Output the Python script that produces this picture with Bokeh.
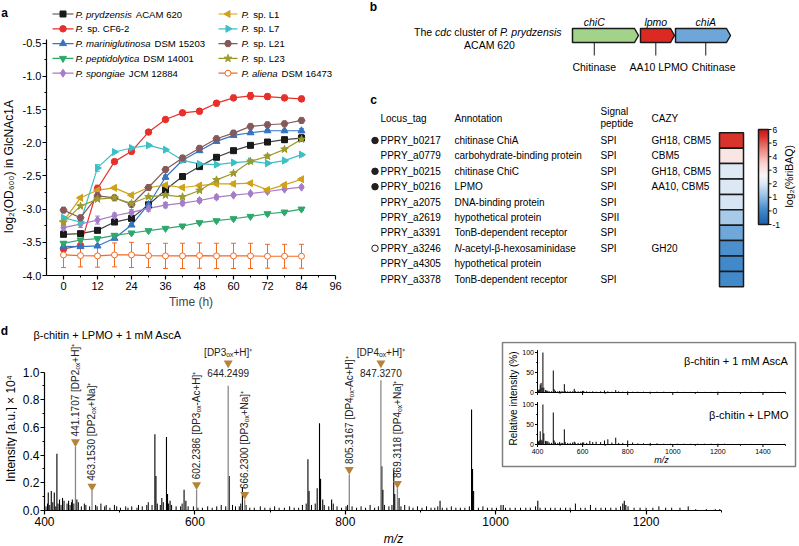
import math
import numpy as np
from bokeh.plotting import figure
from bokeh.models import (Range1d, FixedTicker, PrintfTickFormatter,
                          ColumnDataSource, Whisker, TeeHead, LinearColorMapper)
from bokeh.layouts import row, column
from bokeh.core.properties import value
from bokeh.embed import file_html
from bokeh.resources import INLINE

FONT = "Liberation Sans"

# ======================= DATA =======================
# ---- panel a: growth curves, log2(OD600) ----
time_h = [0, 6, 12, 18, 24, 30, 36, 42, 48, 54, 60, 66, 72, 78, 84]
od_prydzensis = [-3.38, -3.37, -3.32, -3.195, -3.14, -2.935, -2.71, -2.51, -2.36, -2.22, -2.12, -2.04, -1.99, -1.955, -1.93]
od_cf62 = [-3.60, -3.55, -2.69, -2.285, -2.13, -1.84, -1.65, -1.55, -1.525, -1.405, -1.325, -1.295, -1.305, -1.325, -1.34]
od_mariniglutinosa = [-3.56, -3.565, -3.555, -3.44, -3.24, -2.93, -2.52, -2.265, -2.12, -1.98, -1.89, -1.85, -1.82, -1.82, -1.82]
od_peptidolytica = [-3.515, -3.465, -3.445, -3.395, -3.36, -3.325, -3.29, -3.255, -3.205, -3.175, -3.145, -3.11, -3.07, -3.045, -3.0]
od_spongiae = [-3.28, -3.225, -3.165, -3.10, -3.05, -2.99, -2.94, -2.91, -2.87, -2.82, -2.79, -2.765, -2.735, -2.70, -2.67]
od_l1 = [-3.18, -2.83, -2.715, -2.68, -2.79, -2.675, -2.64, -2.675, -2.645, -2.62, -2.62, -2.61, -2.71, -2.635, -2.55]
od_l7 = [-3.13, -3.195, -2.38, -2.14, -2.08, -2.04, -2.105, -2.265, -2.32, -2.33, -2.30, -2.28, -2.31, -2.27, -2.18]
od_l21 = [-3.015, -3.13, -2.80, -2.83, -2.93, -2.675, -2.405, -2.23, -2.085, -1.94, -1.855, -1.755, -1.73, -1.715, -1.665]
od_l23 = [-3.20, -2.955, -2.85, -2.83, -2.915, -2.815, -2.79, -2.815, -2.72, -2.56, -2.46, -2.28, -2.205, -2.10, -1.95]
od_aliena = [-3.69, -3.70, -3.705, -3.69, -3.69, -3.70, -3.705, -3.705, -3.70, -3.705, -3.705, -3.705, -3.71, -3.71, -3.71]

err_prydzensis = [0.03, 0.03, 0.02, 0.03, 0.02, 0.02, 0.04, 0.04, 0.03, 0.02, 0.02, 0.02, 0.03, 0.04, 0.05]
err_cf62 = [0.02, 0.03, 0.05, 0.02, 0.04, 0.03, 0.03, 0.03, 0.04, 0.04, 0.04, 0.05, 0.04, 0.04, 0.04]
err_mariniglutinosa = [0.02, 0.02, 0.02, 0.02, 0.02, 0.02, 0.03, 0.02, 0.02, 0.02, 0.02, 0.02, 0.02, 0.02, 0.03]
err_peptidolytica = [0.02, 0.02, 0.02, 0.02, 0.02, 0.02, 0.02, 0.02, 0.02, 0.02, 0.02, 0.02, 0.02, 0.02, 0.02]
err_spongiae = [0.04, 0.05, 0.06, 0.04, 0.04, 0.04, 0.04, 0.03, 0.03, 0.03, 0.02, 0.02, 0.02, 0.02, 0.02]
err_l1 = [0.03, 0.02, 0.03, 0.02, 0.02, 0.02, 0.02, 0.02, 0.02, 0.02, 0.03, 0.02, 0.02, 0.02, 0.02]
err_l7 = [0.02, 0.02, 0.05, 0.02, 0.02, 0.02, 0.02, 0.02, 0.02, 0.02, 0.02, 0.02, 0.02, 0.02, 0.02]
err_l21 = [0.02, 0.02, 0.02, 0.02, 0.02, 0.02, 0.02, 0.02, 0.02, 0.02, 0.02, 0.02, 0.02, 0.02, 0.02]
err_l23 = [0.02, 0.02, 0.02, 0.02, 0.02, 0.02, 0.02, 0.02, 0.02, 0.02, 0.02, 0.02, 0.03, 0.02, 0.03]
err_aliena = [0.19, 0.17, 0.17, 0.18, 0.19, 0.18, 0.19, 0.19, 0.19, 0.19, 0.19, 0.19, 0.18, 0.18, 0.18]

strain_italic = ["P. prydzensis", "P.", "P. mariniglutinosa", "P. peptidolytica", "P. spongiae",
                 "P.", "P.", "P.", "P.", "P. aliena"]
strain_rest = [" ACAM 620", " sp. CF6-2", " DSM 15203", " DSM 14001", " JCM 12884",
               " sp. L1", " sp. L7", " sp. L21", " sp. L23", " DSM 16473"]

# ---- panel b: the cdc gene cluster (bp) ----
gene_names = ["chiC", "lpmo", "chiA"]
gene_start = [0, 1700, 2575]
gene_end = [1650, 2550, 3950]
gene_product = ["Chitinase", "AA10 LPMO", "Chitinase"]

# ---- panel c: secretome table ----
locus_tags = ["PPRY_b0217", "PPRY_a0779", "PPRY_b0215", "PPRY_b0216", "PPRY_a2075",
              "PPRY_a2619", "PPRY_a3391", "PPRY_a3246", "PPRY_a4305", "PPRY_a3378"]
annot_italic = ["", "", "", "", "", "", "", "N", "", ""]
annot_rest = ["chitinase ChiA", "carbohydrate-binding protein", "chitinase ChiC", "LPMO",
              "DNA-binding protein", "hypothetical protein", "TonB-dependent receptor",
              "-acetyl-\u03b2-hexosaminidase", "hypothetical protein", "TonB-dependent receptor"]
signal_peptide = ["SPI", "SPI", "SPI", "SPI", "SPI", "SPII", "SPI", "SPI", "", "SPI"]
cazy = ["GH18, CBM5", "CBM5", "GH18, CBM5", "AA10, CBM5", "", "", "", "GH20", "", ""]
bullet = ["filled", "", "filled", "filled", "", "", "", "open", "", ""]
log2_riBAQ = [5.5, 3.05, 2.05, 2.0, 1.9, 1.3, 0.6, 0.15, 0.05, 0.05]

# ---- panel d: MALDI spectrum (intensity x 1e4) ----
peak_mz = [405, 409, 413, 416.5, 420, 424, 432, 437, 443,
           546.8, 548.2, 556, 562.2, 563.6, 567, 585.6, 588, 645.6, 663.2,
           750.3, 751.8, 762.6, 765.7, 767.1, 770, 781.8,
           848.6, 850, 864.4, 865.8, 871.5, 926, 967.9, 969.2, 970.6,
           1010, 1056, 1169, 1171, 1173]
peak_int = [0.13, 0.14, 0.13, 0.41, 0.08, 0.09, 0.07, 0.08, 0.08,
            0.55, 0.25, 0.09, 0.53, 0.12, 0.07, 0.15, 0.07, 0.25, 0.17,
            0.37, 0.14, 0.16, 0.63, 0.23, 0.08, 0.08,
            0.32, 0.15, 0.29, 0.12, 0.09, 0.07, 0.73, 0.30, 0.14,
            0.04, 0.07, 0.05, 0.07, 0.04]
noise_mz = [
    402, 404, 407, 411, 415, 418, 422, 426, 430, 434,
    436, 439, 445, 449, 453, 455, 460, 468, 470, 475,
    480, 482, 487, 493, 496, 501, 508, 511, 516, 523,
    525, 530, 536, 538, 543, 550, 554, 558, 565, 569,
    575, 581, 583, 591, 598, 604, 610, 617, 623, 629,
    635, 641, 650, 654, 659, 661, 668, 673, 679, 687,
    693, 700, 706, 712, 719, 726, 732, 738, 743, 748,
    755, 760, 772, 778, 784, 789, 795, 801, 803, 809,
    815, 821, 827, 833, 839, 844, 852, 858, 862, 874,
    879, 885, 890, 896, 902, 908, 914, 919, 923, 929,
    935, 941, 947, 953, 959, 965, 977, 983, 989, 995,
    1001, 1007, 1013, 1019, 1026, 1033, 1040, 1046, 1053, 1059,
    1066, 1073, 1079, 1086, 1093, 1099, 1106, 1113, 1119, 1126,
    1133, 1140, 1146, 1153, 1160, 1166, 1176, 1184, 1192, 1200,
    1209, 1217, 1226, 1234, 1245, 1256, 1266, 1280, 1292, 1298]
noise_int = [
    0.03, 0.05, 0.04, 0.06, 0.03, 0.05, 0.04, 0.07, 0.05, 0.04,
    0.06, 0.05, 0.06, 0.03, 0.05, 0.04, 0.03, 0.04, 0.03, 0.05,
    0.03, 0.04, 0.02, 0.04, 0.03, 0.02, 0.03, 0.02, 0.03, 0.02,
    0.04, 0.03, 0.04, 0.06, 0.04, 0.05, 0.04, 0.06, 0.05, 0.04,
    0.03, 0.03, 0.05, 0.03, 0.03, 0.02, 0.02, 0.03, 0.02, 0.03,
    0.04, 0.03, 0.04, 0.03, 0.03, 0.05, 0.04, 0.02, 0.02, 0.03,
    0.02, 0.02, 0.03, 0.02, 0.02, 0.03, 0.02, 0.02, 0.04, 0.05,
    0.04, 0.05, 0.04, 0.03, 0.05, 0.03, 0.02, 0.03, 0.04, 0.03,
    0.02, 0.03, 0.02, 0.04, 0.02, 0.03, 0.04, 0.03, 0.04, 0.03,
    0.04, 0.03, 0.02, 0.03, 0.02, 0.03, 0.02, 0.02, 0.03, 0.02,
    0.02, 0.03, 0.02, 0.02, 0.02, 0.03, 0.02, 0.03, 0.02, 0.02,
    0.02, 0.04, 0.02, 0.02, 0.02, 0.02, 0.02, 0.02, 0.03, 0.02,
    0.02, 0.02, 0.02, 0.02, 0.02, 0.02, 0.05, 0.02, 0.02, 0.04,
    0.02, 0.02, 0.02, 0.02, 0.02, 0.03, 0.03, 0.02, 0.02, 0.02,
    0.02, 0.03, 0.02, 0.02, 0.02, 0.03, 0.01, 0.01, 0.01, 0.01]
ann_mz = [441.17, 463.15, 602.24, 644.25, 666.23, 805.32, 847.33, 869.31]
ann_int = [0.46, 0.14, 0.15, 0.90, 0.08, 0.26, 0.94, 0.16]
ann_value = ["441.1707", "463.1530", "602.2386", "644.2499", "666.2300", "805.3167", "847.3270", "869.3118"]
ann_ion = ["[DP2\u2092\u2093+H]\u207a", "[DP2\u2092\u2093+Na]\u207a", "[DP3\u2092\u2093-Ac+H]\u207a",
           "[DP3\u2092\u2093+H]\u207a", "[DP3\u2092\u2093+Na]\u207a", "[DP4\u2092\u2093-Ac+H]\u207a",
           "[DP4\u2092\u2093+H]\u207a", "[DP4\u2092\u2093+Na]\u207a"]
ann_horizontal = [False, False, False, True, False, False, True, False]

# ---- panel d inset: relative intensity (%) ----
inset_mz = [405, 408, 412, 416, 420, 424, 428, 436, 441, 446,
            452, 462, 470, 474, 480, 490, 498, 505, 512, 519,
            523, 534, 545, 556, 563, 567, 580, 592, 600, 605,
            618, 632, 645, 660, 680, 697, 712, 730, 747, 760,
            778, 800, 822, 845, 870, 900, 930, 960, 990, 1020,
            1050, 1080, 1110, 1140, 1170, 1200, 1230, 1260, 1290, 1320,
            1350, 1380, 1410, 1440, 1470, 1495]
rel_asca = [6, 8, 20, 24, 12, 100, 12, 6, 5, 4,
            3, 3, 55, 8, 4, 3, 4, 3, 3, 21,
            4, 3, 3, 3, 9, 4, 3, 3, 4, 4,
            3, 2, 3, 2, 3, 5, 3, 2, 6, 3,
            2, 3, 2, 2, 2, 2, 2, 2, 1.5, 2,
            1.5, 1.5, 2, 1.5, 1.5, 2, 1.5, 1.5, 1.5, 1.5,
            1.5, 1.5, 1.5, 1.5, 1.5, 1.5]
rel_lpmo = [8, 10, 33, 12, 10, 100, 28, 9, 8, 8,
            5, 4, 80, 10, 5, 4, 6, 4, 4, 38,
            6, 4, 4, 5, 7, 5, 4, 4, 5, 5,
            4, 9, 6, 7, 6, 10, 13, 5, 17, 4,
            4, 10, 5, 3, 3, 4, 3, 2, 2, 2,
            2, 2, 2, 2, 2, 2, 2, 1.5, 1.5, 1.5,
            1.5, 1.5, 1.5, 1.5, 1.5, 1.5]

# ======================= HELPERS =======================
_AW = {' ': 278, '%': 889, '(': 333, ')': 333, '+': 584, ',': 278, '-': 333, '.': 278, '_': 556,
       '[': 278, ']': 278}
for _c in "0123456789":
    _AW[_c] = 556
for _c, _w in zip("abcdefghijklmnopqrstuvwxyz",
                  [556, 556, 500, 556, 556, 278, 556, 556, 222, 222, 500, 222, 833, 556, 556, 556, 556, 333,
                   500, 278, 556, 500, 722, 500, 500, 500]):
    _AW[_c] = _w
for _c, _w in zip("ABCDEFGHIJKLMNOPQRSTUVWXYZ",
                  [667, 667, 722, 722, 667, 611, 778, 722, 278, 500, 667, 556, 833, 722, 778, 667, 778, 722,
                   667, 611, 722, 667, 944, 667, 667, 611]):
    _AW[_c] = _w


def tw(s, size):
    return sum(_AW.get(c, 556) for c in s) / 1000.0 * size


def style_axis(axis, size, standoff=2):
    axis.axis_line_width = 1.2
    axis.axis_line_color = "black"
    axis.major_tick_line_width = 1.2
    axis.minor_tick_line_width = 1
    axis.major_tick_out = 4
    axis.major_tick_in = 0
    axis.minor_tick_out = 2
    axis.minor_tick_in = 0
    axis.major_label_text_font = FONT
    axis.major_label_text_font_size = f"{size}px"
    axis.major_label_text_color = "black"
    axis.major_label_standoff = standoff


def txt(p, xs, ys, texts, size, style="normal", align="left", baseline="middle",
        color="black", angle=0.0, **kw):
    p.text(x=xs, y=ys, text=texts, text_font=value(FONT), text_font_size=f"{size}px",
           text_font_style=style, text_align=align, text_baseline=baseline,
           text_color=color, angle=angle, **kw)


def mixed(p, x0, y, parts, size, data_per_px, **kw):
    """Lay out italic / upright pieces one after the other (spaces are advanced, not drawn)."""
    x = x0
    for s, it in parts:
        core = s.strip(' ')
        lead = len(s) - len(s.lstrip(' '))
        trail = len(s) - len(s.rstrip(' '))
        x += tw(' ' * lead, size) * data_per_px
        if core:
            txt(p, [x], [y], [core], size, style="italic" if it else "normal", **kw)
        x += (tw(core, size) + tw(' ' * trail, size)) * data_per_px


def base_fig(**kw):
    p = figure(output_backend="svg", toolbar_location=None, **kw)
    p.grid.visible = False
    p.outline_line_color = None
    p.background_fill_color = "white"
    p.border_fill_color = "white"
    return p


def strip(x0, y0, w, h):
    """A plain drawing area whose data units are page pixels (used for labels outside plot frames)."""
    return base_fig(width=w, height=h, frame_width=w, frame_height=h,
                    min_border_left=0, min_border_right=0, min_border_top=0, min_border_bottom=0,
                    x_range=Range1d(x0, x0 + w), y_range=Range1d(y0 + h, y0),
                    x_axis_type=None, y_axis_type=None)


# ======================= PANEL A =======================
SA_W = 18
A_L, A_T, A_FW, A_FH, A_B = 28, 6, 289, 269, 36
A_W = 350
A_R = A_W - A_L - A_FW
A_H = A_T + A_FH + A_B
A_X0, A_X1 = -6.0, 96.0
A_PXH = A_FW / (A_X1 - A_X0)
A_PXV = 66.4
A_Y0 = -4.0
A_Y1 = A_Y0 + A_FH / A_PXV
A_FL = SA_W + A_L
A_FB = A_T + A_FH


def ax(wx):
    return A_X0 + (wx - A_FL) / A_PXH


def ay(wy):
    return A_Y0 + (A_FB - wy) / A_PXV


sa = strip(0, 0, SA_W, A_H)
txt(sa, [4], [6], ["a"], 12, style="bold", align="center")
txt(sa, [8.5], [160], ["log\u2082(OD\u2086\u2080\u2080) in GlcNAc1A"], 12, align="center", angle=math.pi / 2)

pa = base_fig(width=A_W, height=A_H, frame_width=A_FW, frame_height=A_FH,
              min_border_left=A_L, min_border_right=A_R, min_border_top=A_T, min_border_bottom=A_B,
              x_range=Range1d(A_X0, A_X1), y_range=Range1d(A_Y0, A_Y1))
style_axis(pa.xaxis[0], 11)
style_axis(pa.yaxis[0], 11, standoff=1)
pa.xaxis.ticker = FixedTicker(ticks=[0, 12, 24, 36, 48, 60, 72, 84, 96],
                              minor_ticks=[6, 18, 30, 42, 54, 66, 78, 90])
pa.yaxis.ticker = FixedTicker(ticks=[-4.0, -3.5, -3.0, -2.5, -2.0, -1.5, -1.0, -0.5],
                              minor_ticks=[-3.75, -3.25, -2.75, -2.25, -1.75, -1.25, -0.75])
pa.yaxis.formatter = PrintfTickFormatter(format="%.1f")
pa.yaxis.bounds = (-4.0, -0.45)
pa.xaxis.axis_label = "Time (h)"
pa.xaxis.axis_label_text_font = FONT
pa.xaxis.axis_label_text_font_size = "12px"
pa.xaxis.axis_label_text_font_style = "normal"
pa.xaxis.axis_label_standoff = 2

series = [
    (od_prydzensis, err_prydzensis, "#1a1a1a", "#444444", "square", 0.0, 6, "#1a1a1a"),
    (od_cf62, err_cf62, "#e8302a", "#e8302a", "circle", 0.0, 6.5, "#e8302a"),
    (od_mariniglutinosa, err_mariniglutinosa, "#3574c4", "#3574c4", "triangle", 0.0, 7, "#3574c4"),
    (od_peptidolytica, err_peptidolytica, "#2ea86b", "#2ea86b", "inverted_triangle", 0.0, 7, "#2ea86b"),
    (od_spongiae, err_spongiae, "#a57cc9", "#a57cc9", "diamond", 0.0, 8, "#a57cc9"),
    (od_l1, err_l1, "#cfa21a", "#cfa21a", "triangle", math.pi / 2, 7, "#cfa21a"),
    (od_l7, err_l7, "#3cc0c6", "#3cc0c6", "triangle", -math.pi / 2, 7, "#3cc0c6"),
    (od_l21, err_l21, "#85595a", "#85595a", "hex", 0.0, 7, "#85595a"),
    (od_l23, err_l23, "#9c9b2c", "#9c9b2c", "star", 0.0, 8, "#9c9b2c"),
    (od_aliena, err_aliena, "#f26a23", "#f26a23", "circle", 0.0, 6, "white"),
]

for vals, errs, col, lcol, mk, ang, sz, fill in series:
    src = ColumnDataSource(dict(x=time_h, y=vals,
                                upper=[v + e for v, e in zip(vals, errs)],
                                lower=[v - e for v, e in zip(vals, errs)]))
    pa.line("x", "y", source=src, line_color=lcol, line_width=1.2)
    pa.add_layout(Whisker(source=src, base="x", upper="upper", lower="lower",
                          line_color=col, line_width=1,
                          upper_head=TeeHead(size=5, line_color=col, line_width=1),
                          lower_head=TeeHead(size=5, line_color=col, line_width=1)))
for vals, errs, col, lcol, mk, ang, sz, fill in series:
    pa.scatter(time_h, vals, marker=mk, angle=ang, size=sz, fill_color=fill,
               line_color=col, line_width=1)

# legend (two columns x five rows), positions in page pixels
LEG_COLS = [(52, 73, 62.5, 75), (218, 237, 227.5, 241)]
for i, (vals, errs, col, lcol, mk, ang, sz, fill) in enumerate(series):
    c0, c1, cm, ct = LEG_COLS[i // 5]
    wy = 13.5 + 14.8 * (i % 5)
    pa.segment(x0=[ax(c0)], y0=[ay(wy)], x1=[ax(c1)], y1=[ay(wy)], line_color=lcol, line_width=1.2)
    pa.scatter([ax(cm)], [ay(wy)], marker=mk, angle=ang, size=sz, fill_color=fill,
               line_color=col, line_width=1)
    mixed(pa, ax(ct), ay(wy), [(strain_italic[i], True), (strain_rest[i], False)], 9.6, 1 / A_PXH)

# ======================= PANEL B =======================
BC_X0 = SA_W + A_W
BC_W = 798 - BC_X0
B_H = 88
B_BP_PX = 25.0
B_GENE0_W = 572
pb = base_fig(width=BC_W, height=B_H, frame_width=BC_W, frame_height=B_H,
              min_border_left=0, min_border_right=0, min_border_top=0, min_border_bottom=0,
              x_range=Range1d(-(B_GENE0_W - BC_X0) * B_BP_PX, -(B_GENE0_W - BC_X0) * B_BP_PX + BC_W * B_BP_PX),
              y_range=Range1d(B_H, 0), x_axis_type=None, y_axis_type=None)


def bx(wx):
    return (wx - B_GENE0_W) * B_BP_PX


gene_colors = ["#a3d38b", "#dc2a22", "#6ea6da"]
head = 4 * B_BP_PX
g_top, g_bot, g_mid = 28, 42, 35
xs, ys = [], []
for s, e in zip(gene_start, gene_end):
    xs.append([s, e - head, e, e - head, s])
    ys.append([g_top, g_top, g_mid, g_bot, g_bot])
pb.patches(xs, ys, fill_color=gene_colors, line_color="#1a1a1a", line_width=1.5)
label_frac = [0.33, 0.45, 0.55]
lx = [s + f * (e - s) for s, e, f in zip(gene_start, gene_end, label_frac)]
txt(pb, lx, [21] * 3, gene_names, 10.5, style="italic", align="center")
pb.segment(x0=lx, y0=[g_bot] * 3, x1=lx, y1=[55] * 3, line_color="#1a1a1a", line_width=1)
txt(pb, [lx[0], lx[1] + 3 * B_BP_PX, lx[2] + 8 * B_BP_PX], [66] * 3, gene_product, 10.5, align="center")
parts = [("The ", False), ("cdc", True), (" cluster of ", False), ("P. prydzensis", True)]
tot = sum(tw(s, 10.5) for s, _ in parts)
mixed(pb, bx(488) - tot / 2 * B_BP_PX, 31, parts, 10.5, B_BP_PX)
txt(pb, [bx(489)], [44], ["ACAM 620"], 10.5, align="center")
txt(pb, [bx(373)], [6], ["b"], 12, style="bold", align="center")

# ======================= PANEL C =======================
C_H = A_H - B_H
C_TOP_W = B_H
C_ROW0_W = 140
C_ROW_PX = 15.4


def cy(wy):
    return (wy - C_ROW0_W) / C_ROW_PX


pc = base_fig(width=BC_W, height=C_H, frame_width=BC_W, frame_height=C_H,
              min_border_left=0, min_border_right=0, min_border_top=0, min_border_bottom=0,
              x_range=Range1d(BC_X0, BC_X0 + BC_W), y_range=Range1d(cy(C_TOP_W + C_H), cy(C_TOP_W)),
              x_axis_type=None, y_axis_type=None)

rows = list(range(len(locus_tags)))
X_LOCUS, X_ANN, X_SP, X_CAZY, X_BUL = 380, 454, 600, 651, 374.5
txt(pc, [373], [cy(99)], ["c"], 12, style="bold", align="center")
txt(pc, [X_LOCUS, X_ANN, X_CAZY], [cy(118)] * 3, ["Locus_tag", "Annotation", "CAZY"], 10)
txt(pc, [X_SP, X_SP], [cy(111), cy(123)], ["Signal", "peptide"], 10)
txt(pc, [X_LOCUS] * 10, rows, locus_tags, 10)
for r in rows:
    mixed(pc, X_ANN, r, [(annot_italic[r], True), (annot_rest[r], False)], 10, 1.0)
txt(pc, [X_SP] * 10, rows, signal_peptide, 10)
txt(pc, [X_CAZY] * 10, rows, cazy, 10)
fr = [r for r in rows if bullet[r] == "filled"]
orr = [r for r in rows if bullet[r] == "open"]
pc.scatter([X_BUL] * len(fr), fr, marker="circle", size=6.5, fill_color="#231f20", line_color="#231f20")
pc.scatter([X_BUL] * len(orr), orr, marker="circle", size=6.5, fill_color="white", line_color="#231f20",
           line_width=1)

# diverging palette (blue - white - red)
anchors_v = [-1, 0, 1, 2, 2.6, 3.5, 4.5, 5.5, 6]
anchors_c = ["#1f5fa8", "#3f87c9", "#8fbde3", "#dde9f5", "#f7f7f7", "#fad4d1", "#ec8a80", "#d8342c", "#c8151b"]


def _hex2rgb(h):
    return [int(h[i:i + 2], 16) for i in (1, 3, 5)]


_rgb = np.array([_hex2rgb(c) for c in anchors_c], dtype=float)
palette = []
for v in np.linspace(-1, 6, 256):
    r, g, b = (np.interp(v, anchors_v, _rgb[:, k]) for k in range(3))
    palette.append("#%02x%02x%02x" % (int(round(r)), int(round(g)), int(round(b))))
mapper = LinearColorMapper(palette=palette, low=-1, high=6)

pc.rect(x=[731] * 10, y=rows, width=24, height=1,
        fill_color=[palette[int(round((v + 1) / 7 * 255))] for v in log2_riBAQ],
        line_color="#1a1a1a", line_width=1.5)

# colour bar on its own scale
CB_M1_W, CB_6_W = 224, 129
CB_PX = (CB_M1_W - CB_6_W) / 7.0
CB_START = -1 - (C_TOP_W + C_H - CB_M1_W) / CB_PX
CB_END = CB_START + C_H / CB_PX
pc.extra_y_ranges = {"cb": Range1d(CB_START, CB_END)}
grad = np.linspace(-1, 6, 200).reshape(200, 1)
pc.image(image=[grad], x=758, y=-1, dw=10, dh=7, color_mapper=mapper, y_range_name="cb")
pc.quad(left=[758], right=[768], bottom=[-1], top=[6], fill_color=None, line_color="#1a1a1a",
        line_width=1.5, y_range_name="cb")
cb_ticks = [-1, 0, 1, 2, 3, 4, 5, 6]
pc.segment(x0=[768] * 8, y0=cb_ticks, x1=[771] * 8, y1=cb_ticks, line_color="#1a1a1a",
           line_width=1, y_range_name="cb")
txt(pc, [772] * 8, cb_ticks, [str(t) for t in cb_ticks], 8.5, y_range_name="cb")
txt(pc, [788], [2.55], ["log\u2082(%riBAQ)"], 10.5, align="center", angle=math.pi / 2, y_range_name="cb")

# ======================= PANEL D =======================
DT_H = 30
D_TOP_W = A_H + DT_H
SD_W = 17
D_L, D_R, D_T, D_FH, D_B = 27, 1, 0, 169, 22
D_W = 798 - SD_W
D_FW = D_W - D_L - D_R
D_H = D_T + D_FH + D_B
D_PXX = 0.752
D_PXY = 138.5
D_X0 = 400.0
D_X1 = D_X0 + D_FW / D_PXX
D_Y1 = D_FH / D_PXY
D_FL = SD_W + D_L
D_FB = D_TOP_W + D_T + D_FH

st = strip(0, A_H, 798, DT_H)
txt(st, [4], [330], ["d"], 12, style="bold", align="center")
txt(st, [33], [334], ["\u03b2-chitin + LPMO + 1 mM AscA"], 11)

sd = strip(0, D_TOP_W, SD_W, D_H)
txt(sd, [10], [428], ["Intensity [a.u.] \u00d7 10\u2074"], 12, align="center", angle=math.pi / 2)

MZ_H = 545 - (D_TOP_W + D_H)
sm = strip(0, D_TOP_W + D_H, 798, MZ_H)
txt(sm, [393], [D_TOP_W + D_H + MZ_H / 2], ["m/z"], 12, style="italic", align="center")

pd_ = base_fig(width=D_W, height=D_H, frame_width=D_FW, frame_height=D_FH,
               min_border_left=D_L, min_border_right=D_R, min_border_top=D_T, min_border_bottom=D_B,
               x_range=Range1d(D_X0, D_X1), y_range=Range1d(0, D_Y1))
style_axis(pd_.xaxis[0], 12)
style_axis(pd_.yaxis[0], 12, standoff=1)
pd_.xaxis.ticker = FixedTicker(ticks=[400, 600, 800, 1000, 1200], minor_ticks=[500, 700, 900, 1100, 1300])
pd_.xaxis.bounds = (400, 1300)
pd_.yaxis.ticker = FixedTicker(ticks=[0, 0.2, 0.4, 0.6, 0.8, 1.0],
                               minor_ticks=[0.1, 0.3, 0.5, 0.7, 0.9])
pd_.yaxis.formatter = PrintfTickFormatter(format="%.1f")
pd_.yaxis.bounds = (0, 1.0)

pd_.segment(x0=noise_mz, y0=[0] * len(noise_mz), x1=noise_mz, y1=noise_int, line_color="black", line_width=1)
pd_.segment(x0=peak_mz, y0=[0] * len(peak_mz), x1=peak_mz, y1=peak_int, line_color="black", line_width=1.1)
pd_.segment(x0=ann_mz, y0=[0] * len(ann_mz), x1=ann_mz, y1=ann_int, line_color="#8a8a8a", line_width=1.3)

TRI_COLOR = "#b5843a"
TRI_GAP = 0.035
H_VAL_Y, H_TRI_Y, H_ION_Y = 0.99, 1.065, 1.14
vx = [m for m, h in zip(ann_mz, ann_horizontal) if not h]
vtri = [i + TRI_GAP for i, h in zip(ann_int, ann_horizontal) if not h]
vtext = [f"{v} {ion}" for v, ion, h in zip(ann_value, ann_ion, ann_horizontal) if not h]
hx = [m for m, h in zip(ann_mz, ann_horizontal) if h]
hval = [v for v, h in zip(ann_value, ann_horizontal) if h]
hion = [ion for ion, h in zip(ann_ion, ann_horizontal) if h]
pd_.scatter(vx, vtri, marker="inverted_triangle", size=9, fill_color=TRI_COLOR, line_color=None)
txt(pd_, vx, [t + 0.04 for t in vtri], vtext, 10, color="#222222", angle=math.pi / 2)
pd_.scatter(hx, [H_TRI_Y] * len(hx), marker="inverted_triangle", size=9, fill_color=TRI_COLOR, line_color=None)
txt(pd_, hx, [H_VAL_Y] * len(hx), hval, 10, align="center", color="#222222")
txt(pd_, hx, [H_ION_Y] * len(hx), hion, 10, align="center", color="#222222")

# ---- inset (own scales inside panel d) ----
IN_X400_W, IN_X1500_W = 537, 785
IN_S = (IN_X1500_W - IN_X400_W) / 1100.0
IX0 = 400 - (IN_X400_W - D_FL) / IN_S
IX1 = IX0 + D_FW / IN_S
IN_PY = 0.40
IT0 = -(D_FB - 392) / IN_PY
IB0 = -(D_FB - 444) / IN_PY
pd_.extra_x_ranges = {"ix": Range1d(IX0, IX1)}
pd_.extra_y_ranges = {"iyT": Range1d(IT0, IT0 + D_FH / IN_PY), "iyB": Range1d(IB0, IB0 + D_FH / IN_PY)}


def ixw(wx):
    return IX0 + (wx - D_FL) / IN_S


def itw(wy):
    return IT0 + (D_FB - wy) / IN_PY


pd_.quad(left=[ixw(502)], right=[ixw(795)], bottom=[itw(466)], top=[itw(342)],
         fill_color="white", line_color="#7f7f7f", line_width=1.5, x_range_name="ix", y_range_name="iyT")
tick_x = 2.5 / IN_S
tick_y = 2.5 / IN_PY
for rng, rel in (("iyT", rel_asca), ("iyB", rel_lpmo)):
    pd_.segment(x0=inset_mz, y0=[0] * len(inset_mz), x1=inset_mz, y1=rel, line_color="black",
                line_width=1, x_range_name="ix", y_range_name=rng)
    pd_.segment(x0=[400, 400], y0=[0, 0], x1=[1500, 400], y1=[0, 106], line_color="black",
                line_width=1, x_range_name="ix", y_range_name=rng)
    pd_.segment(x0=[400 - tick_x] * 3, y0=[0, 50, 100], x1=[400] * 3, y1=[0, 50, 100],
                line_color="black", line_width=1, x_range_name="ix", y_range_name=rng)
    pd_.segment(x0=[400 - tick_x * 0.6] * 2, y0=[25, 75], x1=[400] * 2, y1=[25, 75],
                line_color="black", line_width=0.8, x_range_name="ix", y_range_name=rng)
    txt(pd_, [400 - tick_x - 1 / IN_S] * 3, [0, 50, 100], ["0", "50", "100"], 7, align="right",
        x_range_name="ix", y_range_name=rng)
inset_ticks = [400, 600, 800, 1000, 1200, 1400]
inset_minor = [500, 700, 900, 1100, 1300, 1500]
for rng in ("iyT", "iyB"):
    pd_.segment(x0=inset_ticks, y0=[0] * 6, x1=inset_ticks, y1=[-tick_y] * 6, line_color="black",
                line_width=1, x_range_name="ix", y_range_name=rng)
    pd_.segment(x0=inset_minor, y0=[0] * 6, x1=inset_minor, y1=[-tick_y * 0.6] * 6, line_color="black",
                line_width=0.8, x_range_name="ix", y_range_name=rng)
txt(pd_, inset_ticks, [-6.5 / IN_PY] * 6, [str(t) for t in inset_ticks], 7, align="center",
    x_range_name="ix", y_range_name="iyB")
txt(pd_, [950], [-15 / IN_PY], ["m/z"], 9, style="italic", align="center",
    x_range_name="ix", y_range_name="iyB")
txt(pd_, [ixw(513)], [itw(398)], ["Relative intensity (%)"], 10, align="center", angle=math.pi / 2,
    x_range_name="ix", y_range_name="iyT")
txt(pd_, [ixw(788), ixw(788)], [itw(360), itw(414)], ["\u03b2-chitin + 1 mM AscA", "\u03b2-chitin + LPMO"],
    11, align="right", x_range_name="ix", y_range_name="iyT")

layout = column(
    row(sa, pa, column(pb, pc, spacing=0), spacing=0),
    st,
    row(sd, pd_, spacing=0),
    sm,
    spacing=0,
)
open("out.html", "w").write(file_html(layout, INLINE))
